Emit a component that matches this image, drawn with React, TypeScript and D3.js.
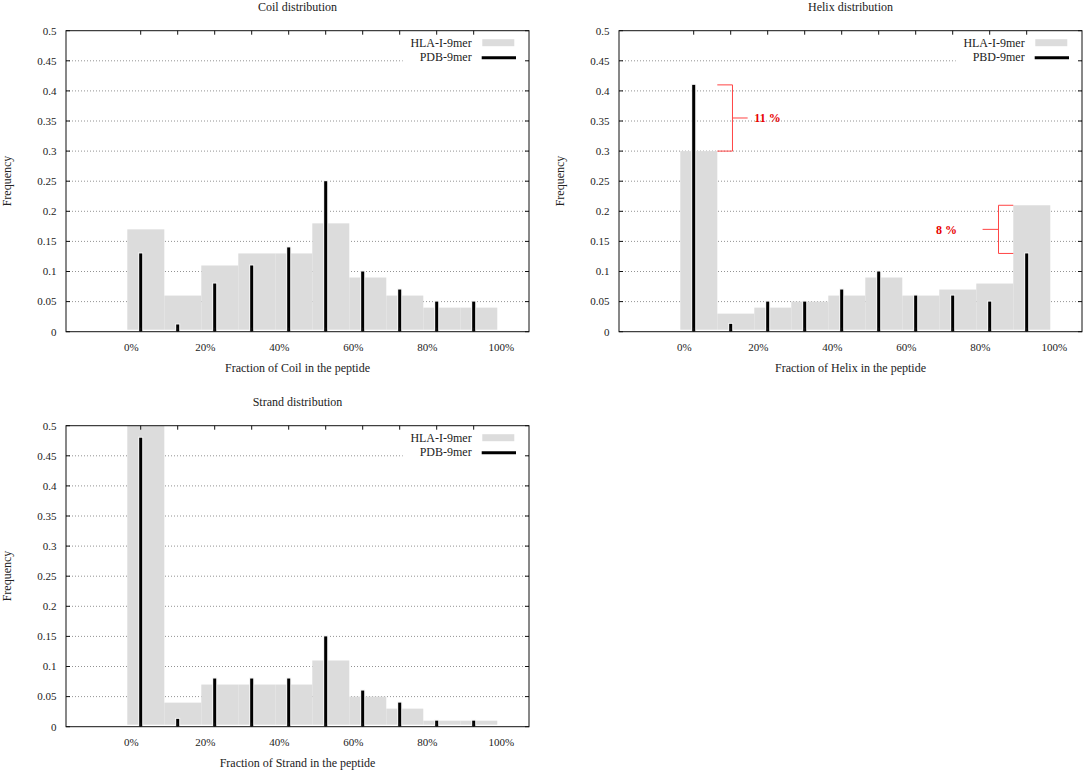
import React from 'react';
import * as d3 from 'd3';

// ---- data ----
const binStarts = [0, 10, 20, 30, 40, 50, 60, 70, 80, 90]; // percent, bin width 10
const xTickValues = [0, 20, 40, 60, 80, 100];
const xTickLabels = ['0%', '20%', '40%', '60%', '80%', '100%'];
const yTickValues = [0, 0.05, 0.1, 0.15, 0.2, 0.25, 0.3, 0.35, 0.4, 0.45, 0.5];
const yTickLabels = ['0', '0.05', '0.1', '0.15', '0.2', '0.25', '0.3', '0.35', '0.4', '0.45', '0.5'];

const coilHLA = [0.17, 0.06, 0.11, 0.13, 0.13, 0.18, 0.09, 0.06, 0.04, 0.04];
const coilPDB = [0.13, 0.012, 0.08, 0.11, 0.14, 0.25, 0.10, 0.07, 0.05, 0.05];

const helixHLA = [0.30, 0.03, 0.04, 0.05, 0.06, 0.09, 0.06, 0.07, 0.08, 0.21];
const helixPDB = [0.41, 0.013, 0.05, 0.05, 0.07, 0.10, 0.06, 0.06, 0.05, 0.13];

const strandHLA = [0.5, 0.04, 0.07, 0.07, 0.07, 0.11, 0.05, 0.03, 0.01, 0.01];
const strandPDB = [0.48, 0.013, 0.08, 0.08, 0.08, 0.15, 0.06, 0.04, 0.01, 0.01];

const helixAnnotations = [
  { hi: 0.41, lo: 0.30, edge: 10, vx: 14.1, tickTo: 18.2, label: '11 %', textX: 20, anchor: 'start' },
  { hi: 0.21, lo: 0.13, edge: 90, vx: 86.0, tickTo: 81.7, label: '8 %', textX: 74.8, anchor: 'end' },
];

const FONT = '"Liberation Serif", "Times New Roman", serif';
const PDB_OFFSET = 3.62;

type Ann = { hi: number; lo: number; edge: number; vx: number; tickTo: number; label: string; textX: number; anchor: string };

function Panel(props: {
  ox: number; oy: number; title: string; xLabel: string;
  hla: number[]; pdb: number[]; pdbName: string; annotations?: Ann[];
}) {
  const { ox, oy, title, xLabel, hla, pdb, pdbName, annotations = [] } = props;
  const left = 66 + ox, right = 529 + ox, top = 30.7 + oy, bottom = 331.7 + oy;
  const x = d3.scaleLinear().domain([-16.57, 108.57]).range([left, right]);
  const y = d3.scaleLinear().domain([0, 0.5]).range([bottom, top]);
  const cx = (left + right) / 2;
  const clipId = `clip-${ox}-${oy}`;

  return (
    <g fontFamily={FONT} fill="#222">
      <defs>
        <clipPath id={clipId}>
          <rect x={left} y={top} width={right - left} height={bottom - top} />
        </clipPath>
      </defs>
      {/* title */}
      <text x={cx} y={oy + 11} textAnchor="middle" fontSize={12}>{title}</text>
      {/* grid */}
      {yTickValues.filter(v => v > 0 && v < 0.5).map(v => (
        <line key={'g' + v} x1={left} x2={right} y1={y(v)} y2={y(v)}
          stroke="#777" strokeWidth={0.8} strokeDasharray="1,2" />
      ))}
      <g clipPath={`url(#${clipId})`}>
        {/* HLA bins */}
        {binStarts.map((b, i) => (
          <rect key={'h' + i} x={x(b)} width={x(b + 10) - x(b)} y={y(hla[i])}
            height={Math.max(0, y(0) - 2 - y(hla[i]))} fill="#dcdcdc" />
        ))}
        {/* PDB bars */}
        {binStarts.map((b, i) => (
          <g key={'p' + i}>
            <rect x={x(b + PDB_OFFSET) - 2.5} width={5} y={y(pdb[i]) - 1} height={y(0) - y(pdb[i]) + 1} fill="#f4f4f4" />
            <rect x={x(b + PDB_OFFSET) - 1.5} width={3} y={y(pdb[i])} height={y(0) - y(pdb[i])} fill="#000" />
          </g>
        ))}
      </g>
      {/* legend box */}
      <rect x={left + 336.7} y={top + 0.5} width={right - left - 337.7} height={35} fill="#fff" />
      <text x={left + 405.7} y={top + 11.8} dy="0.35em" textAnchor="end" fontSize={12}>HLA-I-9mer</text>
      <rect x={left + 416.3} y={top + 8.5} width={32} height={7} fill="#dcdcdc" />
      <text x={left + 405.7} y={top + 26.5} dy="0.35em" textAnchor="end" fontSize={12}>{pdbName}</text>
      <line x1={left + 415.7} x2={left + 450} y1={top + 27} y2={top + 27} stroke="#000" strokeWidth={3} />
      {/* frame */}
      <rect x={left} y={top} width={right - left} height={bottom - top} fill="none" stroke="#111" strokeWidth={1} />
      {/* ticks */}
      {binStarts.map((b, i) => (
        <g key={'t' + i}>
          <line x1={x(b + PDB_OFFSET)} x2={x(b + PDB_OFFSET)} y1={top} y2={top + 4} stroke="#111" strokeWidth={1} />
          <line x1={x(b + PDB_OFFSET)} x2={x(b + PDB_OFFSET)} y1={bottom} y2={bottom - 4} stroke="#111" strokeWidth={1} />
        </g>
      ))}
      {yTickValues.map(v => (
        <g key={'yt' + v}>
          <line x1={left} x2={left + 4} y1={y(v)} y2={y(v)} stroke="#111" strokeWidth={1} />
          <line x1={right - 4} x2={right} y1={y(v)} y2={y(v)} stroke="#111" strokeWidth={1} />
        </g>
      ))}
      {/* y tick labels */}
      {yTickValues.map((v, i) => (
        <text key={'yl' + v} x={left - 9.5} y={y(v)} dy="0.35em" textAnchor="end" fontSize={11}>{yTickLabels[i]}</text>
      ))}
      {/* x tick labels */}
      {xTickValues.map((v, i) => (
        <text key={'xl' + v} x={x(v) + 4} y={oy + 350.5} textAnchor="middle" fontSize={11}>{xTickLabels[i]}</text>
      ))}
      {/* axis labels */}
      <text x={cx} y={oy + 372} textAnchor="middle" fontSize={12}>{xLabel}</text>
      <text transform={`translate(${ox + 7},${oy + 181}) rotate(-90)`} dy="0.35em" textAnchor="middle" fontSize={12}>Frequency</text>
      {/* annotations */}
      {annotations.map((a, i) => {
        const mid = (a.hi + a.lo) / 2;
        return (
          <g key={'a' + i} stroke="#f44" strokeWidth={1} fill="none">
            <line x1={x(a.edge)} x2={x(a.vx)} y1={y(a.hi)} y2={y(a.hi)} />
            <line x1={x(a.edge)} x2={x(a.vx)} y1={y(a.lo)} y2={y(a.lo)} />
            <line x1={x(a.vx)} x2={x(a.vx)} y1={y(a.hi)} y2={y(a.lo)} />
            <line x1={x(a.vx)} x2={x(a.tickTo)} y1={y(mid)} y2={y(mid)} />
            <text x={x(a.textX)} y={y(mid)} dy="0.35em" textAnchor={a.anchor as any}
              fontSize={12} fontWeight="bold" fill="#e80000" stroke="none">{a.label}</text>
          </g>
        );
      })}
    </g>
  );
}

export default function App() {
  return (
    <svg width={1084} height={771} style={{ position: 'absolute', left: 0, top: 0, background: '#fff' }}>
      <rect x={0} y={0} width={1084} height={771} fill="#fff" />
      <Panel ox={0} oy={0} title="Coil distribution" xLabel="Fraction of Coil in the peptide"
        hla={coilHLA} pdb={coilPDB} pdbName="PDB-9mer" />
      <Panel ox={553} oy={0} title="Helix distribution" xLabel="Fraction of Helix in the peptide"
        hla={helixHLA} pdb={helixPDB} pdbName="PBD-9mer" annotations={helixAnnotations} />
      <Panel ox={0} oy={395} title="Strand distribution" xLabel="Fraction of Strand in the peptide"
        hla={strandHLA} pdb={strandPDB} pdbName="PDB-9mer" />
    </svg>
  );
}
